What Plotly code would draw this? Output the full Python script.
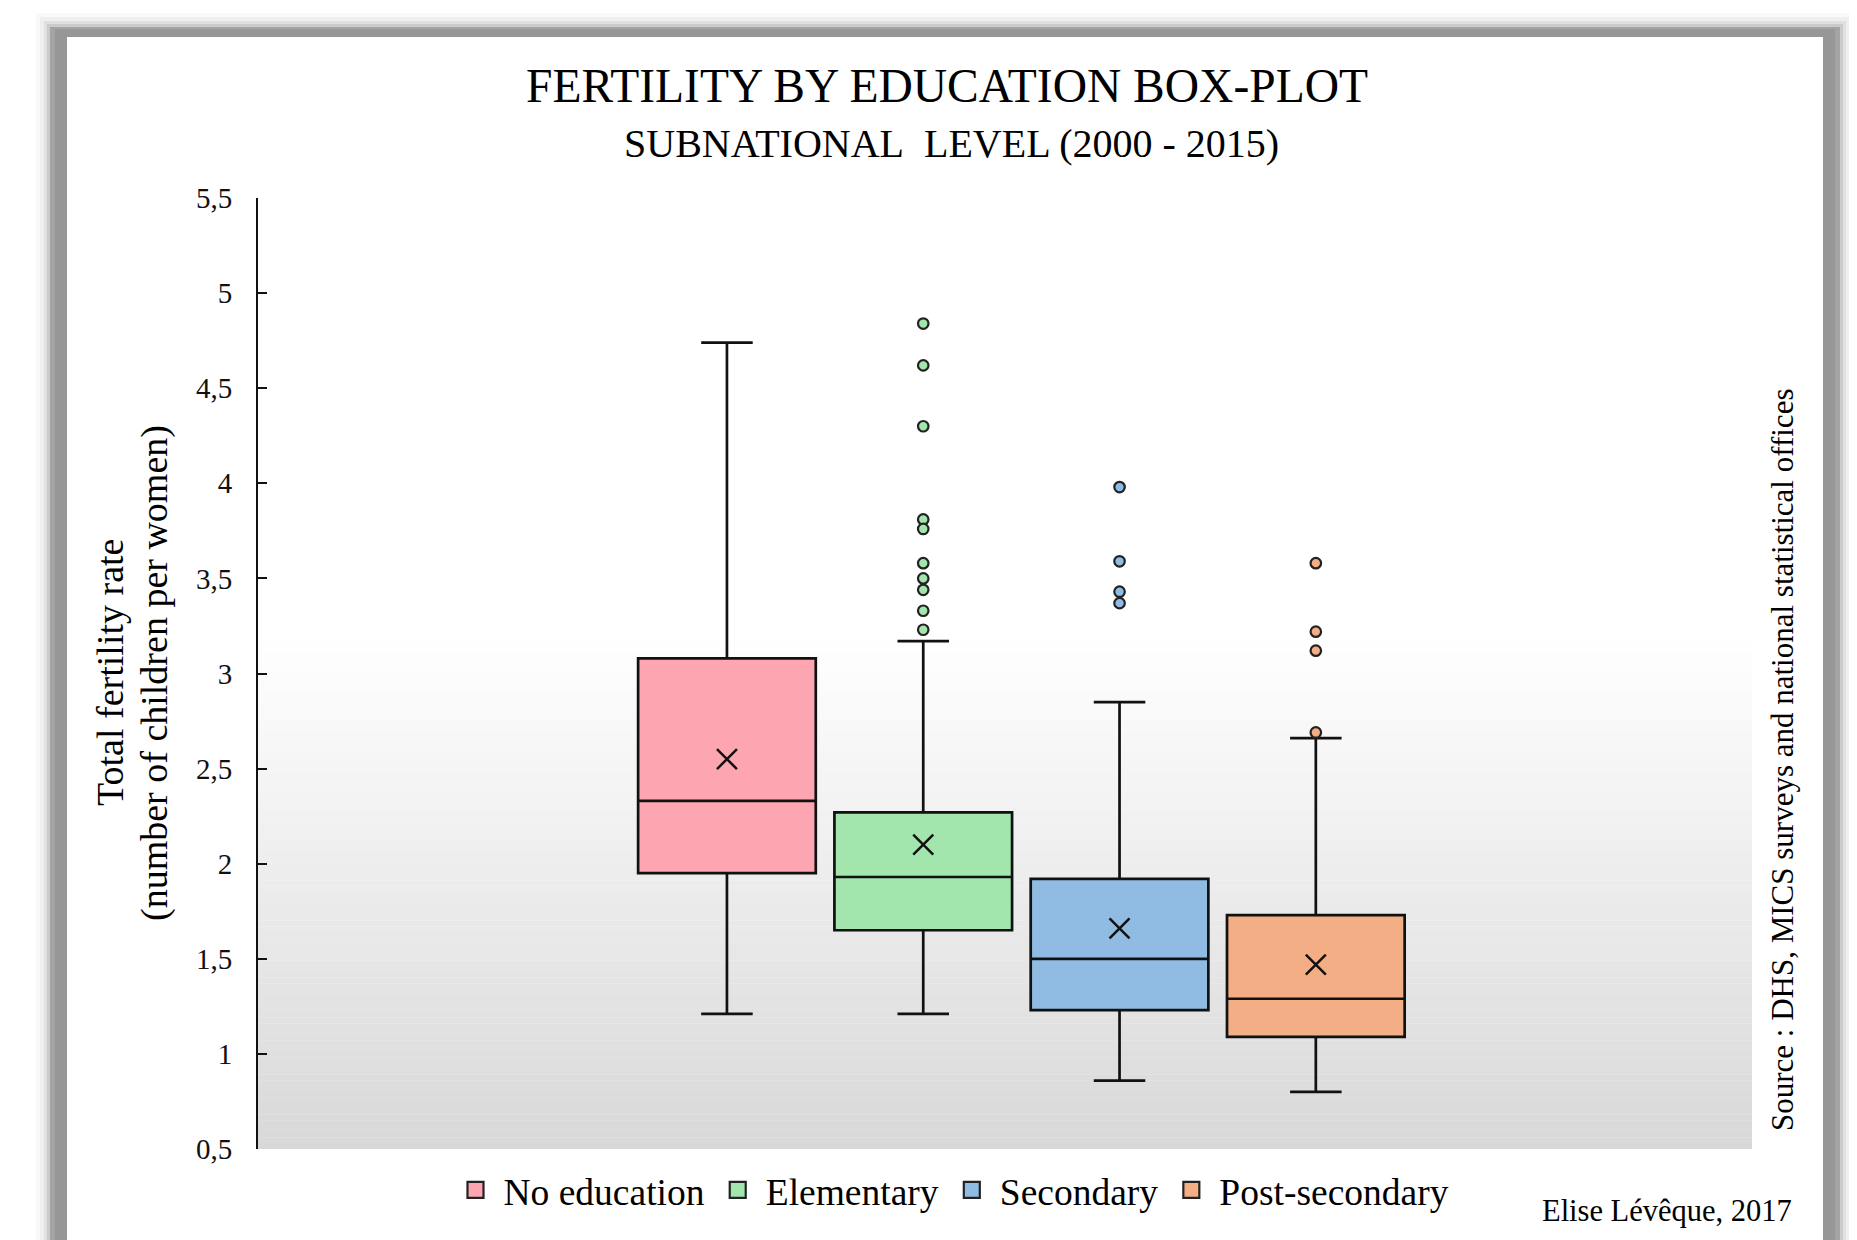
import plotly.graph_objects as go

# ---------------- data ----------------
categories = ["No education", "Elementary", "Secondary", "Post-secondary"]
q1_vals = [1.95, 1.65, 1.23, 1.09]
median_vals = [2.33, 1.93, 1.50, 1.29]
q3_vals = [3.08, 2.27, 1.92, 1.73]
lower_whisker = [1.21, 1.21, 0.86, 0.80]
upper_whisker = [4.74, 3.17, 2.85, 2.66]
mean_vals = [2.55, 2.10, 1.66, 1.47]
outliers_no_education = []
outliers_elementary = [4.84, 4.62, 4.30, 3.81, 3.76, 3.58, 3.50, 3.44, 3.33, 3.23]
outliers_secondary = [3.98, 3.59, 3.43, 3.37]
outliers_post_secondary = [3.58, 3.22, 3.12, 2.69]
outliers = [outliers_no_education, outliers_elementary, outliers_secondary, outliers_post_secondary]
y_ticks = [0.5, 1, 1.5, 2, 2.5, 3, 3.5, 4, 4.5, 5, 5.5]

colors = ["#FDA5B0", "#A2E5AD", "#90BBE3", "#F4AE85"]
FONT = "Liberation Serif, Times New Roman, serif"

# ---------------- geometry (screen px; page body has an 8px margin) ----------------
W, H = 1857, 1240
OFF = 8
ML, MR, MT, MB = 258 - OFF, W - (1752 - OFF), 198 - OFF, H - (1149 - OFF)
PW = W - ML - MR
PH = H - MT - MB


def px(x):
    return (x - OFF - ML) / PW


def py(y):
    return (H - MB - (y - OFF)) / PH


fig = go.Figure()

for i, cat in enumerate(categories):
    fig.add_trace(go.Box(
        name=cat, x=[cat],
        q1=[q1_vals[i]], median=[median_vals[i]], q3=[q3_vals[i]],
        lowerfence=[lower_whisker[i]], upperfence=[upper_whisker[i]],
        boxpoints=False, fillcolor=colors[i],
        line=dict(color="#111111", width=2.7),
        width=0.905, whiskerwidth=0.29,
        showlegend=False, hoverinfo="skip",
    ))
    if outliers[i]:
        fig.add_trace(go.Scatter(
            x=[cat] * len(outliers[i]), y=outliers[i], mode="markers",
            marker=dict(symbol="circle", size=10.5, color=colors[i],
                        line=dict(color="#222222", width=2.2)),
            showlegend=False, hoverinfo="skip",
        ))
    fig.add_trace(go.Scatter(
        x=[cat], y=[mean_vals[i]], mode="markers",
        marker=dict(symbol="x-thin", size=20,
                    line=dict(color="#111111", width=2.5)),
        showlegend=False, hoverinfo="skip",
    ))

# legend entries
for i, cat in enumerate(categories):
    fig.add_trace(go.Scatter(
        x=[cat], y=[None], mode="markers", name=cat,
        marker=dict(symbol="square", size=16, color=colors[i],
                    line=dict(color="#222222", width=2.2)),
        showlegend=True, hoverinfo="skip",
    ))

shapes = []
# frame shadow
for k, a in [(14, 0.025), (10, 0.04), (6, 0.06), (3, 0.09)]:
    shapes.append(dict(type="rect", xref="paper", yref="paper", layer="below",
                       x0=px(50 - k), x1=px(1840 + k), y0=py(1400), y1=py(27 - k),
                       fillcolor=f"rgba(0,0,0,{a})", line=dict(width=0)))
shapes.append(dict(type="rect", xref="paper", yref="paper", layer="below",
                   x0=px(50), x1=px(1840), y0=py(1400), y1=py(27),
                   fillcolor="#a4a4a4", line=dict(width=0)))
shapes.append(dict(type="rect", xref="paper", yref="paper", layer="below",
                   x0=px(55), x1=px(1835), y0=py(1400), y1=py(29),
                   fillcolor="#979797", line=dict(width=0)))
shapes.append(dict(type="rect", xref="paper", yref="paper", layer="below",
                   x0=px(67), x1=px(1823), y0=py(1400), y1=py(37),
                   fillcolor="#ffffff", line=dict(width=0)))

# plot-area vertical gradient (white at top -> light grey at bottom)
g_top, g_bot = 3.2, 0.5
N = 90
c_top, c_bot = 255, 216
step = (g_top - g_bot) / N
for j in range(N):
    y0 = g_bot + j * step
    t = (j + 0.5) / N
    c = round(c_bot + (c_top - c_bot) * t)
    shapes.append(dict(type="rect", xref="paper", yref="y", layer="below",
                       x0=0, x1=1, y0=y0, y1=y0 + step * 1.05,
                       fillcolor=f"rgb({c},{c},{c})", line=dict(width=0)))

annotations = [
    dict(text="FERTILITY BY EDUCATION BOX-PLOT", xref="paper", yref="paper",
         x=px(947), y=py(86), xanchor="center", yanchor="middle", showarrow=False,
         font=dict(family=FONT, size=47.5, color="#000000")),
    dict(text="SUBNATIONAL\u00a0 LEVEL (2000 - 2015)", xref="paper", yref="paper",
         x=px(951), y=py(144), xanchor="center", yanchor="middle", showarrow=False,
         font=dict(family=FONT, size=40, color="#000000")),
    dict(text="Total fertility rate",
         xref="paper", yref="paper", x=px(110), y=py(673), textangle=-90,
         xanchor="center", yanchor="middle", showarrow=False,
         font=dict(family=FONT, size=38, color="#000000")),
    dict(text="(number of children per women)",
         xref="paper", yref="paper", x=px(154), y=py(673), textangle=-90,
         xanchor="center", yanchor="middle", showarrow=False,
         font=dict(family=FONT, size=38, color="#000000")),
    dict(text="Source : DHS, MICS surveys and national statistical offices",
         xref="paper", yref="paper", x=px(1782), y=py(760), textangle=-90,
         xanchor="center", yanchor="middle", showarrow=False,
         font=dict(family=FONT, size=31, color="#000000")),
    dict(text="Elise Lévêque, 2017", xref="paper", yref="paper",
         x=px(1794), y=py(1211), xanchor="right", yanchor="middle", showarrow=False,
         font=dict(family=FONT, size=30.5, color="#000000")),
]

fig.update_layout(
    width=W, height=H,
    margin=dict(l=ML, r=MR, t=MT, b=MB, autoexpand=False),
    paper_bgcolor="#ffffff", plot_bgcolor="rgba(0,0,0,0)",
    separators=", ",
    boxmode="overlay",
    shapes=shapes, annotations=annotations,
    showlegend=True,
    legend=dict(orientation="h", x=px(951), xanchor="center", y=py(1190), yanchor="middle",
                font=dict(family=FONT, size=37.5, color="#000000"), itemwidth=46,
                bgcolor="rgba(0,0,0,0)", itemclick=False),
    xaxis=dict(type="category", categoryorder="array", categoryarray=categories,
               range=[-2.389, 5.222], showticklabels=False, showline=False,
               showgrid=False, zeroline=False, ticks=""),
    yaxis=dict(range=[0.5, 5.5], tickvals=y_ticks, showgrid=False, zeroline=False,
               showline=True, linecolor="#111111", linewidth=2,
               ticks="inside", ticklen=9, tickwidth=2, tickcolor="#111111",
               ticklabelstandoff=18,
               tickfont=dict(family=FONT, size=29, color="#111111")),
)

fig.write_html("out.html")
